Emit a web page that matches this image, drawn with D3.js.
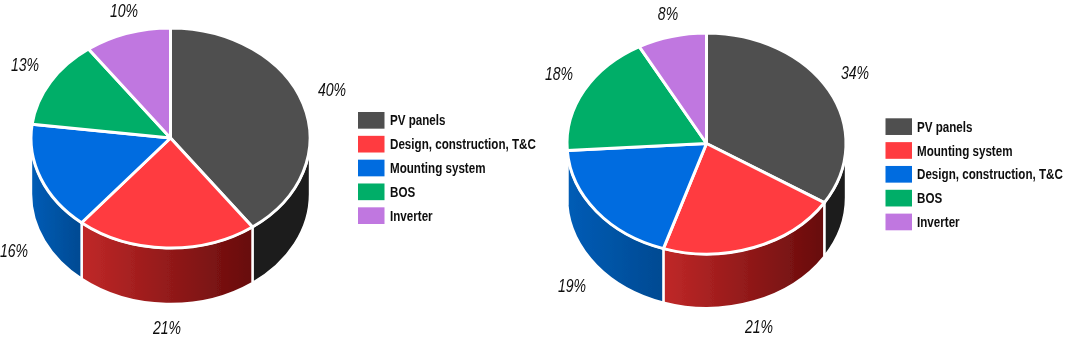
<!DOCTYPE html>
<html>
<head>
<meta charset="utf-8">
<script src="https://cdn.jsdelivr.net/npm/d3@7"></script>
<style>
  html, body { margin: 0; padding: 0; background: #fff; }
  svg { display: block; }
  text { font-family: "Liberation Sans", Arial, sans-serif; fill: #0d0d0d; }
  .pct { font-size: 19px; font-style: italic; text-anchor: middle; dominant-baseline: central; }
  .legend-label { font-size: 15px; font-weight: bold; dominant-baseline: central; }
</style>
</head>
<body>
<div id="chart"></div>
<script>
// Chart data
const leftCategories = ['PV panels', 'Design, construction, T&C', 'Mounting system', 'BOS', 'Inverter'];
const leftValues = [40, 21, 16, 13, 10];
const rightCategories = ['PV panels', 'Mounting system', 'Design, construction, T&C', 'BOS', 'Inverter'];
const rightValues = [34, 21, 19, 18, 8];

// Slice colours go by position, not by category
const topColors = ['#505050', '#ff3b3f', '#006ce0', '#00ae68', '#c077e0'];
const wallColors = [
  ['#1a1a1a', '#1a1a1a'],
  ['#c02828', '#670c0c'],
  ['#005cb6', '#004a92'],
  ['#00ae68', '#00ae68'],
  ['#c077e0', '#c077e0']
];

const width = 1065;
const height = 338;

// The reference type is condensed, no narrow face is installed so squeeze it
const pctSqueeze = 0.74;
const legendSqueeze = 0.775;

// Layout of the two pies
const leftLayout = {
  id: 'left', cx: 170.5, cy: 138, rx: 139.5, ry: 110, depth: 56,
  legendX: 358, legendY: 112, legendGap: 32,
  labelPos: [[332, 90], [167, 327.5], [14, 251], [25, 65], [124, 11]]
};
const rightLayout = {
  id: 'right', cx: 706.5, cy: 143.5, rx: 139.5, ry: 110.5, depth: 54,
  legendX: 885.5, legendY: 118.3, legendGap: 31.5,
  labelPos: [[855, 73], [759, 327], [572, 286], [559, 74], [668, 14]]
};

const svg = d3.select('#chart').append('svg')
  .attr('width', width)
  .attr('height', height);

const defs = svg.append('defs');

// The reference is a soft, upscaled raster
defs.append('filter')
  .attr('id', 'soft')
  .append('feGaussianBlur')
  .attr('stdDeviation', 0.4);

/**
 * Draw one pie with its wall, labels and legend
 */
function drawPie(layout, categories, values) {
  const { cx, cy, rx, ry, depth } = layout;
  const root = svg.append('g')
    .attr('class', `pie-${layout.id}`)
    .attr('filter', 'url(#soft)');

  const slices = d3.pie().sort(null)(values);
  const arc = d3.arc().innerRadius(0).outerRadius(rx);

  // Point on the rim, angle measured clockwise from the top
  const rim = (a) => [cx + rx * Math.sin(a), cy - ry * Math.cos(a)];

  // Wall: only the front half of the rim can be seen
  slices.forEach((s, i) => {
    const a0 = Math.max(s.startAngle, Math.PI / 2);
    const a1 = Math.min(s.endAngle, Math.PI * 1.5);
    if (a0 >= a1) return;

    const [sx, sy] = rim(a0);
    const [ex, ey] = rim(a1);
    const gradId = `wall-${layout.id}-${i}`;
    const grad = defs.append('linearGradient')
      .attr('id', gradId)
      .attr('gradientUnits', 'userSpaceOnUse')
      .attr('x1', Math.min(sx, ex)).attr('x2', Math.max(sx, ex))
      .attr('y1', 0).attr('y2', 0);
    grad.append('stop').attr('offset', 0).attr('stop-color', wallColors[i][0]);
    grad.append('stop').attr('offset', 1).attr('stop-color', wallColors[i][1]);

    const d = `M${sx},${sy}A${rx},${ry} 0 0 1 ${ex},${ey}` +
      `L${ex},${ey + depth}A${rx},${ry} 0 0 0 ${sx},${sy + depth}Z`;

    root.append('path')
      .attr('d', d)
      .attr('fill', `url(#${gradId})`)
      .attr('stroke', '#fff')
      .attr('stroke-width', 2.4)
      .attr('stroke-linejoin', 'round');
  });

  // Top face: a circular pie squashed to the ellipse
  root.append('g')
    .attr('transform', `translate(${cx},${cy}) scale(1,${ry / rx})`)
    .selectAll('path')
    .data(slices)
    .join('path')
    .attr('d', arc)
    .attr('fill', (d, i) => topColors[i])
    .attr('stroke', '#fff')
    .attr('stroke-width', 3)
    .attr('stroke-linejoin', 'round')
    .attr('vector-effect', 'non-scaling-stroke');

  // Percentage labels
  root.selectAll('text.pct')
    .data(values)
    .join('text')
    .attr('class', 'pct')
    .attr('transform', (d, i) =>
      `translate(${layout.labelPos[i][0]},${layout.labelPos[i][1]}) scale(${pctSqueeze},1)`)
    .text(d => `${d}%`);

  // Legend
  const row = d3.scaleBand()
    .domain(categories)
    .range([layout.legendY, layout.legendY + 112])
    .paddingInner(0.3)
    .paddingOuter(0);

  const items = root.selectAll('g.legend-item')
    .data(categories)
    .join('g')
    .attr('class', 'legend-item')
    .attr('transform', d => `translate(${layout.legendX},${row(d)})`);

  items.append('rect')
    .attr('width', 26.5)
    .attr('height', row.bandwidth())
    .attr('fill', (d, i) => topColors[i]);

  items.append('text')
    .attr('class', 'legend-label')
    .attr('transform', `translate(${layout.legendGap},${row.bandwidth() / 2}) scale(${legendSqueeze},1)`)
    .text(d => d);
}

drawPie(leftLayout, leftCategories, leftValues);
drawPie(rightLayout, rightCategories, rightValues);
</script>
</body>
</html>
